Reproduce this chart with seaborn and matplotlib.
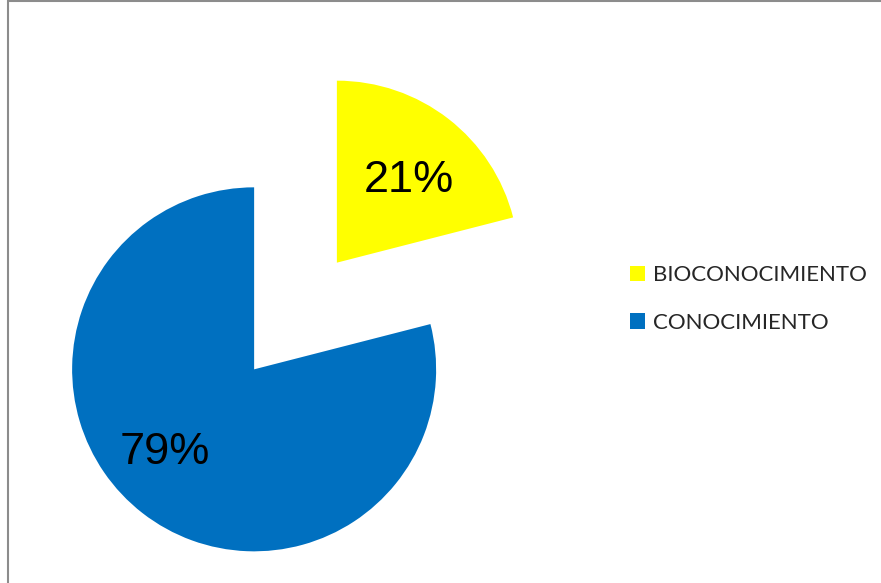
import matplotlib
matplotlib.use('Agg')
import matplotlib.pyplot as plt
import seaborn as sns
import numpy as np
from matplotlib.patches import Rectangle

sns.set_theme(style='white')
plt.rcParams['font.family'] = ['Liberation Sans', 'DejaVu Sans']

categorias = ['BIOCONOCIMIENTO', 'CONOCIMIENTO']
valores = [21, 79]
colores = ['#FFFF00', '#0070C0']

W, H = 881, 583
fig = plt.figure(figsize=(W / 100, H / 100), dpi=100)
ax = fig.add_axes([0, 0, 1, 1])

# explode va en unidades de datos (pixeles aqui), no en fraccion del radio
wedges, textos, autotextos = ax.pie(
    valores, colors=colores, startangle=90, counterclock=False,
    explode=[67.5, 67.5], center=(295.5, H - 316), radius=182,
    autopct='%1.0f%%', pctdistance=0.62, frame=True,
    wedgeprops={'linewidth': 0},
    textprops={'fontsize': 32.5, 'color': 'black'})
ax.set_xlim(0, W)
ax.set_ylim(0, H)
ax.set_aspect('equal')
ax.axis('off')

# ajuste fino de las etiquetas (angulo en grados, distancia en fraccion del radio)
ajustes = [(49, 0.60), (-137, 0.67)]
for w, t, (ang, dist) in zip(wedges, autotextos, ajustes):
    cx, cy = w.center
    a = np.deg2rad(ang)
    t.set_position((cx + dist * w.r * np.cos(a), cy + dist * w.r * np.sin(a)))

leg = ax.legend(wedges, categorias, loc='upper left',
                bbox_to_anchor=(610 / W, 1 - 245 / H),
                frameon=False, handlelength=0.68, handleheight=0.68,
                handletextpad=0.35, labelspacing=1.25,
                prop={'family': 'Lato', 'size': 16})

# marco gris (solo borde superior e izquierdo visibles)
fig.patches.append(Rectangle((7.5 / W, -0.1), 1.2, (H - 1.5) / H + 0.1,
                             transform=fig.transFigure, fill=False,
                             edgecolor='#8c8c8c', linewidth=1.5))

fig.savefig('out.png', dpi=100, facecolor='white')
